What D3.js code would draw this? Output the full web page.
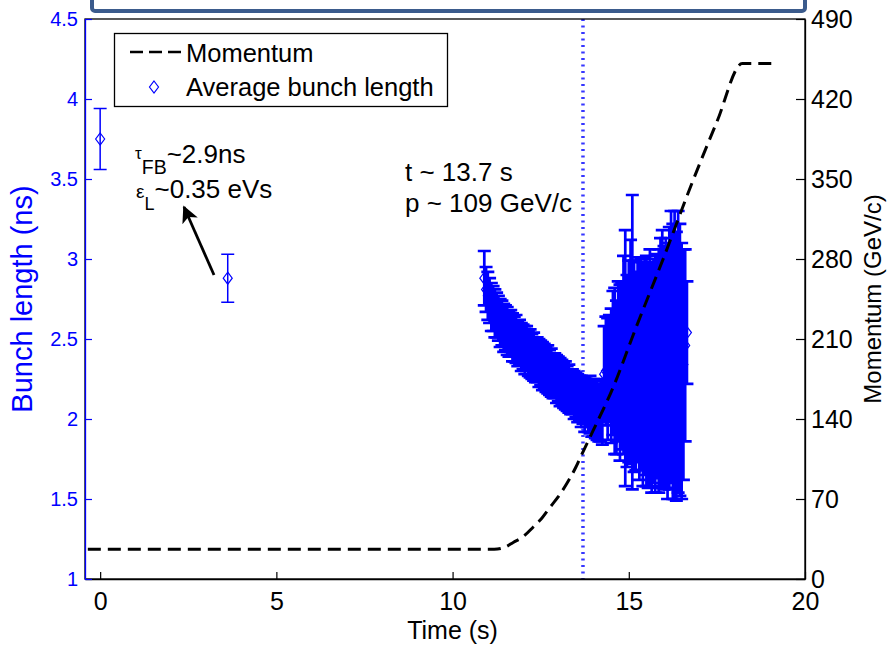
<!DOCTYPE html>
<html>
<head>
<meta charset="utf-8">
<script src="https://cdn.jsdelivr.net/npm/d3@7"></script>
<style>
  body { margin: 0; background: #fff; }
  text { font-family: "Liberation Sans", Arial, sans-serif; }
</style>
</head>
<body>
<div id="wrapper"></div>
<script>
// Data

// two isolated measurements before the ramp
const earlyTimes = [0, 3.62]
const earlyLengths = [3.75, 2.88]
const earlyErrors = [0.19, 0.15]

// dense measurements during the ramp
const rampTimes = [
  10.90, 10.95, 11.00, 11.05, 11.10, 11.15, 11.20, 11.25, 11.30, 11.35,
  11.40, 11.45, 11.50, 11.55, 11.60, 11.65, 11.70, 11.75, 11.80, 11.85,
  11.90, 11.95, 12.00, 12.05, 12.10, 12.15, 12.20, 12.25, 12.30, 12.35,
  12.40, 12.45, 12.50, 12.55, 12.60, 12.65, 12.70, 12.75, 12.80, 12.85,
  12.90, 12.95, 13.00, 13.05, 13.10, 13.15, 13.20, 13.25, 13.30, 13.35,
  13.40, 13.45, 13.50, 13.55, 13.60, 13.65, 13.70, 13.75, 13.80, 13.85,
  13.90, 13.95, 14.00, 14.05, 14.10, 14.15, 14.20, 14.25,
  14.30, 14.35, 14.40, 14.45, 14.50, 14.55, 14.60, 14.65, 14.70, 14.75,
  14.80, 14.85, 14.90, 14.95, 15.00, 15.05, 15.10, 15.15, 15.20, 15.25,
  15.30, 15.35, 15.40, 15.45, 15.50, 15.55, 15.60, 15.65, 15.70, 15.75,
  15.80, 15.85, 15.90, 15.95, 16.00, 16.05, 16.10, 16.15, 16.20, 16.25,
  16.30, 16.35, 16.40, 16.45, 16.50, 16.55, 16.60, 16.65
]
const rampLengths = [
  2.88, 2.81, 2.77, 2.74, 2.70, 2.69, 2.66, 2.65, 2.63, 2.60,
  2.60, 2.57, 2.57, 2.55, 2.53, 2.54, 2.51, 2.50, 2.50, 2.47,
  2.48, 2.45, 2.45, 2.43, 2.44, 2.41, 2.41, 2.39, 2.39, 2.37,
  2.37, 2.35, 2.35, 2.33, 2.33, 2.31, 2.31, 2.29, 2.29, 2.27,
  2.27, 2.25, 2.25, 2.23, 2.23, 2.21, 2.21, 2.19, 2.19, 2.17,
  2.17, 2.15, 2.15, 2.13, 2.13, 2.11, 2.11, 2.09, 2.10, 2.08,
  2.09, 2.06, 2.07, 2.05, 2.06, 2.04, 2.05, 2.04,
  2.28, 2.30, 2.25, 2.32, 2.27, 2.35, 2.30, 2.26, 2.36, 2.29,
  2.33, 2.40, 2.38, 2.30, 2.36, 2.42, 2.48, 2.33, 2.30, 2.37,
  2.30, 2.34, 2.28, 2.33, 2.30, 2.27, 2.32, 2.26, 2.30, 2.28,
  2.33, 2.30, 2.35, 2.38, 2.32, 2.35, 2.30, 2.38, 2.45, 2.36,
  2.40, 2.33, 2.42, 2.37, 2.30, 2.34, 2.46, 2.54
]
const rampErrors = [
  0.17, 0.14, 0.15, 0.14, 0.15, 0.14, 0.15, 0.14, 0.14, 0.15,
  0.14, 0.15, 0.14, 0.15, 0.14, 0.14, 0.15, 0.14, 0.15, 0.14,
  0.14, 0.15, 0.14, 0.15, 0.14, 0.14, 0.15, 0.14, 0.15, 0.14,
  0.14, 0.15, 0.14, 0.15, 0.14, 0.14, 0.15, 0.14, 0.15, 0.14,
  0.14, 0.15, 0.14, 0.15, 0.14, 0.14, 0.15, 0.14, 0.15, 0.14,
  0.14, 0.15, 0.14, 0.15, 0.14, 0.16, 0.14, 0.17, 0.15, 0.16,
  0.18, 0.17, 0.18, 0.17, 0.19, 0.18, 0.19, 0.20,
  0.30, 0.34, 0.38, 0.33, 0.42, 0.45, 0.52, 0.48, 0.50, 0.55,
  0.52, 0.62, 0.80, 0.60, 0.63, 0.70, 0.92, 0.66, 0.62, 0.64,
  0.68, 0.66, 0.70, 0.68, 0.72, 0.70, 0.74, 0.72, 0.70, 0.74,
  0.70, 0.76, 0.78, 0.80, 0.76, 0.78, 0.80, 0.82, 0.85, 0.86,
  0.90, 0.84, 0.88, 0.85, 0.80, 0.72, 0.60, 0.32
]

// momentum programme (GeV/c)
const momentumTimes = [-0.35, 11.18, 11.5, 11.72, 12.0, 12.29, 12.5, 12.77, 13.0, 13.25,
  13.5, 13.62, 13.99, 14.56, 15.18, 16.0, 16.75, 17.5, 18.22, 19.13]
const momentumValues = [26, 26, 28, 32, 37, 45.5, 52, 63, 72, 84,
  98, 106, 130, 168, 218, 282, 343, 400, 451, 451]

const markerTime = 13.7

const xTicks = [0, 5, 10, 15, 20]
const leftTicks = [1, 1.5, 2, 2.5, 3, 3.5, 4, 4.5]
const rightTicks = [0, 70, 140, 210, 280, 350, 420, 490]

function drawChart() {

  const earlyData = earlyTimes.map((t, i) => ({ t: t, v: earlyLengths[i], e: earlyErrors[i] }))
  const rampData = rampTimes.map((t, i) => ({ t: t, v: rampLengths[i], e: rampErrors[i] }))
  const momentumData = momentumTimes.map((t, i) => ({ t: t, p: momentumValues[i] }))

  const xAccessor = d => d.t
  const yAccessor = d => d.v
  const pAccessor = d => d.p

  let dimensions = {
    width: 887,
    height: 645,
    margin: { top: 19, right: 82, bottom: 66, left: 85 },
  }
  dimensions.boundedWidth = dimensions.width - dimensions.margin.left - dimensions.margin.right
  dimensions.boundedHeight = dimensions.height - dimensions.margin.top - dimensions.margin.bottom

  const blue = "#0000ff"
  const font = "\"Liberation Sans\", Arial, sans-serif"

  const wrapper = d3.select("#wrapper")
    .append("svg")
    .attr("width", dimensions.width)
    .attr("height", dimensions.height)
    .style("display", "block")

  // slide title box cut at the top
  wrapper.append("rect")
    .attr("x", 92)
    .attr("y", -20)
    .attr("width", 713)
    .attr("height", 31)
    .attr("rx", 3)
    .attr("fill", "#fff")
    .attr("stroke", "#3b5b8c")
    .attr("stroke-width", 4)

  const bounds = wrapper.append("g")
    .attr("transform", `translate(${dimensions.margin.left}, ${dimensions.margin.top})`)

  // Scales
  const xScale = d3.scaleLinear()
    .domain([-0.43, 20])
    .range([0, dimensions.boundedWidth])

  const yScale = d3.scaleLinear()
    .domain([1, 4.5])
    .range([dimensions.boundedHeight, 0])

  const pScale = d3.scaleLinear()
    .domain([0, 490])
    .range([dimensions.boundedHeight, 0])

  // marker line at t ~ 13.7 s
  bounds.append("line")
    .attr("x1", xScale(markerTime))
    .attr("x2", xScale(markerTime))
    .attr("y1", 0)
    .attr("y2", dimensions.boundedHeight)
    .attr("stroke", "#3636ff")
    .attr("stroke-width", 3.5)
    .attr("stroke-dasharray", "2,4.5")

  // Error bars with diamonds underneath
  const cap = 6.5
  const errorPath = d => {
    const x = xScale(xAccessor(d))
    const y1 = yScale(yAccessor(d) + d.e)
    const y2 = yScale(yAccessor(d) - d.e)
    return `M${x - cap},${y1}H${x + cap}M${x},${y1}V${y2}M${x - cap},${y2}H${x + cap}`
  }
  const diamondPath = (x, y) => `M${x},${y - 6}L${x + 4.5},${y}L${x},${y + 6}L${x - 4.5},${y}Z`

  const drawSeries = (data, width) => {
    const g = bounds.append("g")
    g.selectAll(".marker")
      .data(data)
      .enter().append("path")
      .attr("class", "marker")
      .attr("d", d => diamondPath(xScale(xAccessor(d)), yScale(yAccessor(d))))
      .attr("fill", "none")
      .attr("stroke", blue)
      .attr("stroke-width", 1.2)
    g.selectAll(".bar")
      .data(data)
      .enter().append("path")
      .attr("class", "bar")
      .attr("d", errorPath)
      .attr("fill", "none")
      .attr("stroke", blue)
      .attr("stroke-width", width)
  }
  drawSeries(earlyData, 1.5)
  drawSeries(rampData, 2.7)

  // Momentum
  const momentumLine = d3.line()
    .x(d => xScale(xAccessor(d)))
    .y(d => pScale(pAccessor(d)))
    .curve(d3.curveMonotoneX)

  bounds.append("path")
    .datum(momentumData)
    .attr("d", momentumLine)
    .attr("fill", "none")
    .attr("stroke", "#000")
    .attr("stroke-width", 3)
    .attr("stroke-dasharray", "13,7")

  // Frame
  bounds.append("rect")
    .attr("width", dimensions.boundedWidth)
    .attr("height", dimensions.boundedHeight)
    .attr("fill", "none")
    .attr("stroke", "#000")
    .attr("stroke-width", 1.3)

  // Axes
  const xAxisGenerator = d3.axisBottom(xScale)
    .tickValues(xTicks)
    .tickSizeInner(-7)
    .tickSizeOuter(0)
    .tickPadding(13)

  const xAxis = bounds.append("g")
    .attr("transform", `translate(0, ${dimensions.boundedHeight})`)
    .call(xAxisGenerator)
  xAxis.select(".domain").attr("stroke", "#000").attr("stroke-width", 1.3)
  xAxis.selectAll(".tick line").attr("stroke", "#000").attr("stroke-width", 1.2)
  xAxis.selectAll(".tick text")
    .attr("fill", "#000")
    .style("font-family", font)
    .style("font-size", "25px")

  xAxis.append("text")
    .attr("x", xScale(10))
    .attr("y", 60)
    .attr("fill", "#000")
    .style("font-family", font)
    .style("font-size", "25px")
    .style("text-anchor", "middle")
    .text("Time (s)")

  const yAxisGenerator = d3.axisLeft(yScale)
    .tickValues(leftTicks)
    .tickFormat(d3.format(""))
    .tickSizeInner(-7)
    .tickSizeOuter(0)
    .tickPadding(7)

  const yAxis = bounds.append("g")
    .call(yAxisGenerator)
  yAxis.select(".domain").attr("stroke", blue).attr("stroke-width", 1.3)
  yAxis.selectAll(".tick line").attr("stroke", blue).attr("stroke-width", 1.2)
  yAxis.selectAll(".tick text")
    .attr("fill", blue)
    .style("font-family", font)
    .style("font-size", "20px")

  yAxis.append("text")
    .attr("transform", `translate(${-dimensions.margin.left + 32}, ${dimensions.boundedHeight / 2}) rotate(-90)`)
    .attr("fill", blue)
    .style("font-family", font)
    .style("font-size", "29px")
    .style("text-anchor", "middle")
    .text("Bunch length (ns)")

  const pAxisGenerator = d3.axisRight(pScale)
    .tickValues(rightTicks)
    .tickSizeInner(-9)
    .tickSizeOuter(0)
    .tickPadding(6)

  const pAxis = bounds.append("g")
    .attr("transform", `translate(${dimensions.boundedWidth}, 0)`)
    .call(pAxisGenerator)
  pAxis.select(".domain").attr("stroke", "#000").attr("stroke-width", 1.3)
  pAxis.selectAll(".tick line").attr("stroke", "#000").attr("stroke-width", 1.2)
  pAxis.selectAll(".tick text")
    .attr("fill", "#000")
    .style("font-family", font)
    .style("font-size", "25px")

  pAxis.append("text")
    .attr("transform", `translate(76, ${dimensions.boundedHeight / 2}) rotate(-90)`)
    .attr("fill", "#000")
    .style("font-family", font)
    .style("font-size", "24px")
    .style("text-anchor", "middle")
    .text("Momentum (GeV/c)")

  // Legend
  const legend = wrapper.append("g")
  legend.append("rect")
    .attr("x", 114.5)
    .attr("y", 33.5)
    .attr("width", 333)
    .attr("height", 73)
    .attr("fill", "#fff")
    .attr("stroke", "#000")
    .attr("stroke-width", 1.3)
  legend.append("line")
    .attr("x1", 130)
    .attr("x2", 183)
    .attr("y1", 52)
    .attr("y2", 52)
    .attr("stroke", "#000")
    .attr("stroke-width", 2.5)
    .attr("stroke-dasharray", "13,6")
  legend.append("text")
    .attr("x", 186)
    .attr("y", 62)
    .style("font-size", "25.5px")
    .text("Momentum")
  legend.append("path")
    .attr("d", diamondPath(154, 87))
    .attr("fill", "none")
    .attr("stroke", blue)
    .attr("stroke-width", 1.2)
  legend.append("text")
    .attr("x", 186)
    .attr("y", 96)
    .style("font-size", "25.5px")
    .text("Average bunch length")

  // Annotations
  const note1 = wrapper.append("text").attr("x", 135).attr("y", 163).style("font-size", "26px")
  note1.append("tspan").style("font-size", "17px").attr("dy", -4).text("τ")
  note1.append("tspan").style("font-size", "19.5px").attr("dy", 15).text("FB")
  note1.append("tspan").attr("dy", -11).text("~2.9ns")

  const note2 = wrapper.append("text").attr("x", 136).attr("y", 198).style("font-size", "26px")
  note2.append("tspan").style("font-size", "19px").text("ε")
  note2.append("tspan").style("font-size", "18px").attr("dy", 12).text("L")
  note2.append("tspan").attr("dy", -12).text("~0.35 eVs")

  wrapper.append("defs").append("marker")
    .attr("id", "head")
    .attr("viewBox", "0 0 10 10")
    .attr("refX", 9)
    .attr("refY", 5)
    .attr("markerWidth", 7)
    .attr("markerHeight", 6)
    .attr("markerUnits", "strokeWidth")
    .attr("orient", "auto")
    .append("path")
    .attr("d", "M0,0L10,5L0,10L2.5,5Z")
    .attr("fill", "#000")

  wrapper.append("line")
    .attr("x1", 214)
    .attr("y1", 275)
    .attr("x2", 184)
    .attr("y2", 207)
    .attr("stroke", "#000")
    .attr("stroke-width", 2.8)
    .attr("marker-end", "url(#head)")

  wrapper.append("text").attr("x", 405).attr("y", 181).style("font-size", "26px").text("t ~ 13.7 s")
  wrapper.append("text").attr("x", 405).attr("y", 212).style("font-size", "26px").text("p ~ 109 GeV/c")
}
drawChart()
</script>
</body>
</html>
